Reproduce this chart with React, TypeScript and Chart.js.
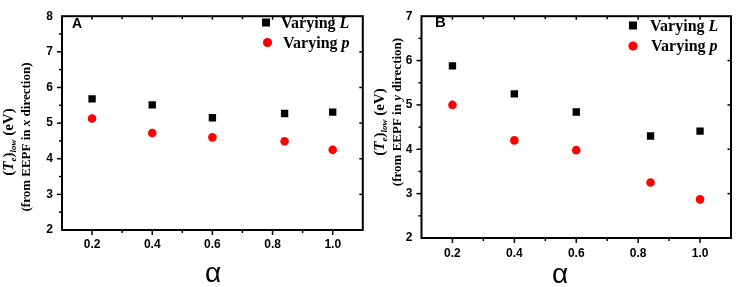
import React, { useEffect, useRef } from 'react';
import { Chart, registerables } from 'chart.js';

Chart.register(...registerables);

// ---- data ----
const alphaValues = [0.2, 0.4, 0.6, 0.84, 1.0];
const xTickValues = [0.2, 0.4, 0.6, 0.8, 1.0];
const xTickLabels = ['0.2', '0.4', '0.6', '0.8', '1.0'];
const xMinorValues = [0.3, 0.5, 0.7, 0.9];
const panelAVaryingL = [5.68, 5.51, 5.15, 5.27, 5.31];
const panelAVaryingP = [5.13, 4.72, 4.6, 4.49, 4.25];
const panelBVaryingL = [5.88, 5.25, 4.84, 4.3, 4.41];
const panelBVaryingP = [5.0, 4.2, 3.98, 3.25, 2.87];
const panelAYRange = [2, 8];
const panelBYRange = [2, 7];
const seriesLabels = ['Varying L', 'Varying p'];
const seriesColors = ['#000000', '#ff0000'];

const SANS = '"Liberation Sans", Arial, sans-serif';
const SERIF = '"Liberation Serif", "Times New Roman", serif';

type Seg = { text: string; font: string; dy?: number };

function drawRich(ctx: CanvasRenderingContext2D, segs: Seg[], x: number, y: number, align: 'left' | 'center') {
  let total = 0;
  for (const s of segs) {
    ctx.font = s.font;
    total += ctx.measureText(s.text).width;
  }
  let cur = align === 'center' ? x - total / 2 : x;
  ctx.textAlign = 'left';
  ctx.textBaseline = 'alphabetic';
  for (const s of segs) {
    ctx.font = s.font;
    ctx.fillText(s.text, cur, y + (s.dy || 0));
    cur += ctx.measureText(s.text).width;
  }
}

type PanelCfg = {
  id: string;
  letter: string;
  letterX: number;
  letterBase: number;
  letterSize: number;
  direction: string;
  yRange: number[];
  varyingL: number[];
  varyingP: number[];
  canvasLeft: number;
  canvasWidth: number;
  yWidth: number;
  xHeight: number;
  padTop: number;
  padRight: number;
  yTickPad: number;
  xTickPad: number;
  t1Base: number;
  t1Center: number;
  t2Base: number;
  t2Center: number;
  legend: { mx: number; my: number; tx: number; ty: number }[];
  alphaX: number;
  alphaBase: number;
};

const panels: PanelCfg[] = [
  {
    id: 'A',
    letter: 'A',
    letterX: 72,
    letterBase: 28,
    letterSize: 14,
    direction: 'x',
    yRange: panelAYRange,
    varyingL: panelAVaryingL,
    varyingP: panelAVaryingP,
    canvasLeft: 0,
    canvasWidth: 368,
    yWidth: 62,
    xHeight: 57,
    padTop: 7.5,
    padRight: 3,
    yTickPad: 9,
    xTickPad: 7,
    t1Base: 12.5,
    t1Center: 142,
    t2Base: 29.5,
    t2Center: 137,
    legend: [
      { mx: 266, my: 22.5, tx: 281, ty: 27.5 },
      { mx: 267.5, my: 42.5, tx: 283, ty: 47.5 },
    ],
    alphaX: 213,
    alphaBase: 282,
  },
  {
    id: 'B',
    letter: 'B',
    letterX: 67,
    letterBase: 27,
    letterSize: 15,
    direction: 'y',
    yRange: panelBYRange,
    varyingL: panelBVaryingL,
    varyingP: panelBVaryingP,
    canvasLeft: 368,
    canvasWidth: 369,
    yWidth: 53.5,
    xHeight: 49,
    padTop: 7.5,
    padRight: 6,
    yTickPad: 9,
    xTickPad: 8,
    t1Base: 15.5,
    t1Center: 122,
    t2Base: 33,
    t2Center: 112,
    legend: [
      { mx: 265, my: 25.5, tx: 282, ty: 30.5 },
      { mx: 265, my: 46, tx: 283, ty: 50.5 },
    ],
    alphaX: 192,
    alphaBase: 283,
  },
];

function makePlugin(cfg: PanelCfg) {
  return {
    id: 'panelDecor' + cfg.id,
    afterDraw(chart: any) {
      const ctx: CanvasRenderingContext2D = chart.ctx;
      const a = chart.chartArea;
      const x = chart.scales.x;
      const y = chart.scales.y;
      ctx.save();
      ctx.fillStyle = '#000';
      ctx.strokeStyle = '#000';
      // frame
      ctx.lineWidth = 2;
      ctx.strokeRect(a.left, a.top, a.right - a.left, a.bottom - a.top);
      // ticks
      ctx.lineWidth = 1.5;
      const line = (x1: number, y1: number, x2: number, y2: number) => {
        ctx.beginPath();
        ctx.moveTo(x1, y1);
        ctx.lineTo(x2, y2);
        ctx.stroke();
      };
      for (const t of x.ticks) {
        const px = x.getPixelForValue(t.value);
        line(px, a.bottom, px, a.bottom + 5);
        line(px, a.top, px, a.top + 3.5);
      }
      for (const v of xMinorValues) {
        const px = x.getPixelForValue(v);
        line(px, a.bottom, px, a.bottom + 3);
        line(px, a.top, px, a.top + 3);
      }
      for (const t of y.ticks) {
        const py = y.getPixelForValue(t.value);
        if (t.value > cfg.yRange[0] && t.value < cfg.yRange[1]) {
          line(a.left - 5, py, a.left, py);
          line(a.right - 3.5, py, a.right, py);
        }
        const mv = t.value + 0.5;
        if (mv < cfg.yRange[1]) {
          const pm = y.getPixelForValue(mv);
          line(a.left - 3, pm, a.left, pm);
        }
      }
      // panel letter
      ctx.font = `bold ${cfg.letterSize}px ${SANS}`;
      ctx.textAlign = 'left';
      ctx.textBaseline = 'alphabetic';
      ctx.fillText(cfg.letter, cfg.letterX, cfg.letterBase);
      // alpha title
      ctx.font = `28px ${SANS}`;
      ctx.textAlign = 'center';
      ctx.fillText('α', cfg.alphaX, cfg.alphaBase);
      // y title (two lines, rotated)
      const big = `bold 15px ${SERIF}`;
      const bigIt = `italic bold 15px ${SERIF}`;
      const subIt = `italic bold 9px ${SERIF}`;
      const mid = `bold 13px ${SERIF}`;
      const midIt = `italic bold 13px ${SERIF}`;
      ctx.save();
      ctx.translate(cfg.t1Base, cfg.t1Center);
      ctx.rotate(-Math.PI / 2);
      drawRich(
        ctx,
        [
          { text: '(', font: big },
          { text: 'T', font: bigIt },
          { text: 'e', font: subIt, dy: 3 },
          { text: ')', font: big },
          { text: 'low', font: subIt, dy: 3 },
          { text: ' (eV)', font: big },
        ],
        0,
        0,
        'center'
      );
      ctx.restore();
      ctx.save();
      ctx.translate(cfg.t2Base, cfg.t2Center);
      ctx.rotate(-Math.PI / 2);
      drawRich(
        ctx,
        [
          { text: '(from EEPF in ', font: mid },
          { text: cfg.direction, font: midIt },
          { text: ' direction)', font: mid },
        ],
        0,
        0,
        'center'
      );
      ctx.restore();
      // legend
      const ds = chart.data.datasets;
      ds.forEach((d: any, i: number) => {
        const L = cfg.legend[i];
        ctx.fillStyle = d.backgroundColor;
        if (d.pointStyle === 'rect') {
          ctx.fillRect(L.mx - 4, L.my - 4, 8, 8);
        } else {
          ctx.beginPath();
          ctx.arc(L.mx, L.my, 4.6, 0, Math.PI * 2);
          ctx.fill();
        }
        ctx.fillStyle = '#000';
        const parts = String(d.label).split(' ');
        drawRich(
          ctx,
          [
            { text: parts[0] + ' ', font: `bold 16px ${SERIF}` },
            { text: parts[1], font: `italic bold 16px ${SERIF}` },
          ],
          L.tx,
          L.ty,
          'left'
        );
      });
      ctx.restore();
    },
  };
}

function Panel({ cfg }: { cfg: PanelCfg }) {
  const ref = useRef<HTMLCanvasElement | null>(null);
  useEffect(() => {
    if (!ref.current) return;
    const chart = new Chart(ref.current, {
      type: 'scatter',
      data: {
        datasets: [
          {
            label: seriesLabels[0],
            data: alphaValues.map((v, i) => ({ x: v, y: cfg.varyingL[i] })),
            pointStyle: 'rect',
            pointRadius: 5.2,
            backgroundColor: seriesColors[0],
            borderColor: seriesColors[0],
            borderWidth: 0,
          },
          {
            label: seriesLabels[1],
            data: alphaValues.map((v, i) => ({ x: v, y: cfg.varyingP[i] })),
            pointStyle: 'circle',
            pointRadius: 4.3,
            backgroundColor: seriesColors[1],
            borderColor: seriesColors[1],
            borderWidth: 0,
          },
        ],
      },
      options: {
        animation: false,
        responsive: false,
        devicePixelRatio: 1,
        events: [],
        layout: { padding: { top: cfg.padTop, right: cfg.padRight, left: 0, bottom: 0 } },
        plugins: { legend: { display: false }, tooltip: { enabled: false } },
        scales: {
          x: {
            type: 'linear',
            min: 0.1,
            max: 1.1,
            grid: { display: false, drawTicks: false },
            border: { display: false },
            afterBuildTicks: (scale: any) => {
              scale.ticks = xTickValues.map((v) => ({ value: v }));
            },
            afterFit: (scale: any) => {
              scale.height = cfg.xHeight;
            },
            ticks: {
              autoSkip: false,
              maxRotation: 0,
              padding: cfg.xTickPad,
              color: '#000',
              font: { family: SANS, size: 12, weight: 'bold' },
              callback: (value: any) => {
                const idx = xTickValues.findIndex((v) => Math.abs(v - Number(value)) < 1e-6);
                return idx >= 0 ? xTickLabels[idx] : '';
              },
            },
          },
          y: {
            type: 'linear',
            min: cfg.yRange[0],
            max: cfg.yRange[1],
            grid: { display: false, drawTicks: false },
            border: { display: false },
            afterFit: (scale: any) => {
              scale.width = cfg.yWidth;
            },
            ticks: {
              stepSize: 1,
              padding: cfg.yTickPad,
              color: '#000',
              font: { family: SANS, size: 12, weight: 'bold' },
            },
          },
        },
      } as any,
      plugins: [makePlugin(cfg)],
    });
    return () => chart.destroy();
  }, [cfg]);
  return (
    <canvas
      ref={ref}
      width={cfg.canvasWidth}
      height={287}
      style={{ position: 'absolute', left: cfg.canvasLeft, top: 0, width: cfg.canvasWidth, height: 287 }}
    />
  );
}

export default function App() {
  return (
    <div style={{ position: 'fixed', left: 0, top: 0, width: 737, height: 287, background: '#fff' }}>
      {panels.map((p) => (
        <Panel key={p.id} cfg={p} />
      ))}
    </div>
  );
}
